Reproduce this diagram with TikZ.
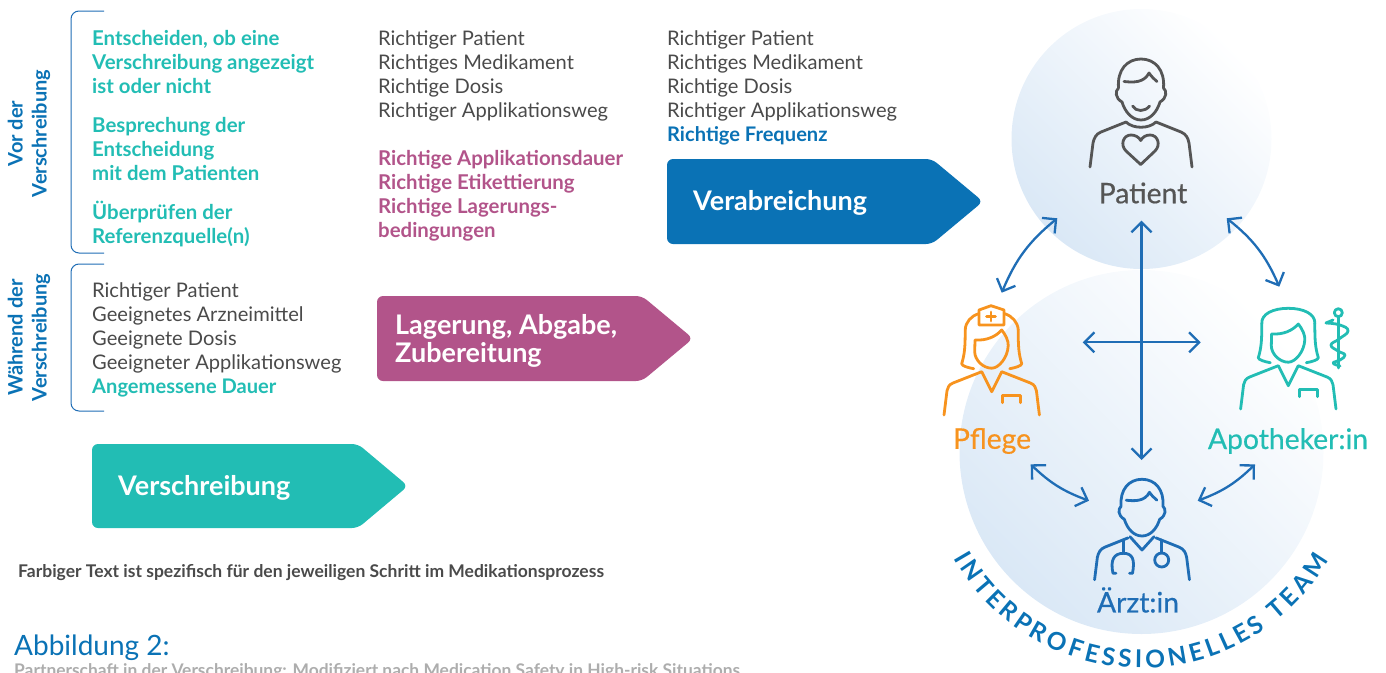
\documentclass[tikz,border=0pt]{standalone}
\usepackage{fontspec}
\setmainfont{Lato}
\newfontfamily\medfont[FakeBold=0.5]{Lato}
\usetikzlibrary{arrows.meta,decorations.text}
\definecolor{cteal}{HTML}{22BDB4}
\definecolor{cblue}{HTML}{0A72B5}
\definecolor{cline}{HTML}{1F6DB5}
\definecolor{cmag}{HTML}{B2548A}
\definecolor{cgray}{HTML}{4A4A4A}
\definecolor{cicon}{HTML}{555555}
\definecolor{corange}{HTML}{F7931E}
\definecolor{ccirc}{HTML}{DAE8F6}
\tikzset{
  body/.style={font=\fontsize{20.1}{24}\selectfont,text=cgray,align=left,anchor=north west,inner sep=0pt},
  tealb/.style={body,text=cteal,font=\fontsize{20.4}{24}\selectfont\bfseries},
  magb/.style={body,text=cmag,font=\fontsize{20.4}{24}\selectfont\bfseries},
  side/.style={font=\fontsize{20}{24}\selectfont\bfseries,text=cblue,align=center,rotate=90,inner sep=0pt},
  tagbox/.style={rounded corners=6pt},
  taglabel/.style={font=\fontsize{27}{28}\selectfont\bfseries,text=white,align=left,anchor=west,inner sep=0pt},
  role/.style={font=\fontsize{28.3}{30}\selectfont\medfont,inner sep=0pt},
  bracket/.style={draw=cline,line width=1pt,rounded corners=8pt},
  dbl/.style={draw=cline,line width=2.3pt,{Straight Barb[length=10pt,width=20pt,line width=2.3pt]}-{Straight Barb[length=10pt,width=20pt,line width=2.3pt]}},
  icon/.style={line width=2.8pt,line cap=round,line join=round},
  pics/manhead/.style={code={
    \draw[icon] (-22.5,-12) .. controls (-24,-30) and (-14,-41) .. (0,-41) .. controls (14,-41) and (24,-30) .. (22.5,-12)
      .. controls (26,-9) and (26,-2) .. (19,2) .. controls (16,12) and (9,20) .. (0,20) .. controls (-9,20) and (-16,12) .. (-19,2)
      .. controls (-26,-2) and (-26,-9) .. (-22.5,-12);
    \draw[icon] (-17,-18.5) .. controls (-8,-17.5) and (3,-17) .. (8,-27) .. controls (10,-24) and (13,-21) .. (16,-18.5);
    \draw[icon] (-15,22) -- (-40,32) .. controls (-45,34) and (-47,38) .. (-48,43) -- (-51,67);
    \draw[icon] (15,22) -- (40,32) .. controls (45,34) and (47,38) .. (48,43) -- (51,67);
  }},
  pics/woman/.style={code={
    \draw[icon] (-18,-23) .. controls (-24,-24) and (-30,-26) .. (-30,-28) .. controls (-27,-38) and (-26.5,-45) .. (-26.5,-62);
    \draw[icon] (18,-23) .. controls (24,-24) and (30,-26) .. (30,-28) .. controls (27,-38) and (26.5,-45) .. (26.5,-62);
    \draw[icon] (-16.7,-51.7) .. controls (-5,-51) and (4,-55) .. (10,-61.7) .. controls (14,-57) and (17,-50) .. (16.5,-46)
      .. controls (16,-34) and (7,-23.5) .. (0,-23.5) .. controls (-9,-23.5) and (-17,-32) .. (-17,-40) -- cycle;
    \draw[icon] (-47.7,23.3) -- (-44.7,-1) .. controls (-44,-4) and (-43,-7) .. (-38.7,-8.7) -- (-10,-20) -- (0,0) -- (10,-20) -- (38.7,-8.7) .. controls (43,-7) and (44,-4) .. (44.7,-1) -- (47.7,23.3);
    \draw[icon] (11,11) -- (11,3.6) -- (29,3.6) -- (29,11);
  }},
}
\begin{document}
\begin{tikzpicture}[x=1pt,y=-1pt]
\useasboundingbox (0,0) rectangle (1386,672);
% circles
\shade[bottom color=ccirc,top color=white,shading angle=-45] (1141.5,139) circle[radius=130pt];
\shade[bottom color=ccirc,top color=white,shading angle=-45] (1141.5,452) circle[radius=182pt];
% brackets
\coordinate (b1a) at (104,11); \coordinate (b1b) at (71,11); \coordinate (b1c) at (71,253); \coordinate (b1d) at (104,253);
\draw[bracket] (b1a) -- (b1b) -- (b1c) -- (b1d);
\coordinate (b2a) at (104,264); \coordinate (b2b) at (71,264); \coordinate (b2c) at (71,411); \coordinate (b2d) at (104,411);
\draw[bracket] (b2a) -- (b2b) -- (b2c) -- (b2d);
% side labels
\node[side] (vor) at (29,133.5) {Vor der\\Verschreibung};
\node[side] (waehr) at (29,337.5) {Während der\\Verschreibung};
% column 1
\node[tealb] (c1a) at (92,30) {Entscheiden, ob eine\\Verschreibung angezeigt\\ist oder nicht};
\node[tealb] (c1b) at (92,117) {Besprechung der\\Entscheidung\\mit dem Patienten};
\node[tealb] (c1c) at (92,201) {Überprüfen der\\Referenzquelle(n)};
\node[body] (c1d) at (92,282) {Richtiger Patient\\Geeignetes Arzneimittel\\Geeignete Dosis\\Geeigneter Applikationsweg\\\textcolor{cteal}{\bfseries Angemessene Dauer}};
% column 2
\node[body] (c2a) at (378,30) {Richtiger Patient\\Richtiges Medikament\\Richtige Dosis\\Richtiger Applikationsweg};
\node[magb] (c2b) at (378,150) {Richtige Applikationsdauer\\Richtige Etikettierung\\Richtige Lagerungs-\\bedingungen};
% column 3
\node[body] (c3a) at (667,30) {Richtiger Patient\\Richtiges Medikament\\Richtige Dosis\\Richtiger Applikationsweg\\\textcolor{cblue}{\bfseries Richtige Frequenz}};
% tags
\fill[cteal,tagbox] (92,444) -- (358,444) -- (408,486) -- (358,528) -- (92,528) -- cycle;
\node[taglabel] (t1) at (118,488) {Verschreibung};
\fill[cmag,tagbox] (377,296) -- (642,296) -- (693,338.5) -- (642,381) -- (377,381) -- cycle;
\node[taglabel] (t2) at (395,341) {Lagerung, Abgabe,\\Zubereitung};
\fill[cblue,tagbox] (667,159) -- (932,159) -- (983,201.5) -- (932,244) -- (667,244) -- cycle;
\node[taglabel] (t3) at (693,203) {Verabreichung};
% notes
\node[font=\fontsize{17.5}{18}\selectfont\bfseries,text=cgray,anchor=west,inner sep=0pt] (note) at (18,573) {Farbiger Text ist spezifisch für den jeweiligen Schritt im Medikationsprozess};
\node[font=\fontsize{28}{30}\selectfont,text=cblue,anchor=west,inner sep=0pt] (abb) at (14,648) {Abbildung 2:};
\node[font=\fontsize{17.4}{18}\selectfont\bfseries,text=black!32,anchor=base west,inner sep=0pt] (cap) at (14,676) {Partnerschaft in der Verschreibung: Modifiziert nach Medication Safety in High-risk Situations};
% patient icon
\begin{scope}[cicon,color=cicon]
\pic at (1141,100) {manhead};
\draw[icon] (1126,122) .. controls (1133,129) and (1149,129) .. (1156,122);
\draw[icon] (1132.5,106) .. controls (1136,112) and (1145,112) .. (1149.5,106);
\draw[icon] (1140.7,164.5) -- (1126,151) .. controls (1120,145) and (1123,135) .. (1131,135) .. controls (1135,135) and (1139,137) .. (1140.7,140.5)
  .. controls (1142.5,137) and (1146,135) .. (1150,135) .. controls (1158,135) and (1161,145) .. (1155,151) -- cycle;
\end{scope}
\node[role,text=cicon] (patient) at (1143,193) {Patient};
% nurse
\begin{scope}[color=corange]
\pic at (991.7,391.7) {woman};
\draw[icon] (965.2,329.7) .. controls (965.7,322) and (971,316) .. (978.7,313.7);
\draw[icon] (1018.2,329.7) .. controls (1017.7,322) and (1012,316) .. (1004.7,313.7);
\draw[icon] (979,310) -- (991,305.7) -- (1004,310) -- (1004,325) -- (979,325) -- cycle;
\draw[icon] (991,312) -- (991,321) (986.5,316.5) -- (995.5,316.5);
\end{scope}
\node[role,text=corange] (pflege) at (992,441) {Pflege};
% pharmacist
\begin{scope}[color=cteal]
\pic at (1288.3,385.7) {woman};
\draw[icon] (1261.8,323.7) .. controls (1261,314) and (1273,308.3) .. (1288.3,308.3) .. controls (1303.6,308.3) and (1315.6,314) .. (1314.8,323.7);
\draw[icon] (1338.3,312.7) circle[radius=4pt];
\draw[icon] (1338.3,316.7) -- (1338.3,368);
\draw[icon] plot[smooth,tension=0.8] coordinates {(1326,323) (1340,325) (1348,331) (1339,339) (1331,345) (1338,351) (1345,355) (1340,360) (1333,363) (1340,366)};
\draw[icon] (1326,323) -- (1333,320);
\end{scope}
\node[role,text=cteal] (apo) at (1288,441) {Apotheker:in};
% doctor
\begin{scope}[color=cline]
\pic[scale=0.93] at (1142,517.4) {manhead};
\draw[icon] (1130,536.7) -- (1142,550) -- (1154,536.7);
\draw[icon] (1123.3,540) -- (1123.3,553.3);
\draw[icon] (1116,573.3) -- (1113,573.3) .. controls (1110,560) and (1114,553.3) .. (1123.3,553.3) .. controls (1133,553.3) and (1135,560) .. (1132.5,573.3) -- (1129.5,573.3);
\draw[icon] (1161.7,540) -- (1161.7,553);
\draw[icon] (1161.7,560) circle[radius=7pt];
\end{scope}
\node[role,text=cline] (arzt) at (1138,600) {Ärzt:in};
% arrows
\coordinate (a1s) at (1057.3,218.3); \coordinate (a1e) at (1001.7,292.7);
\coordinate (a2s) at (1226.7,218.3); \coordinate (a2e) at (1279.3,286.7);
\coordinate (vs) at (1141.5,220.7); \coordinate (ve) at (1141.5,460);
\coordinate (hs) at (1082.7,342.3); \coordinate (he) at (1200.7,342.3);
\coordinate (a3s) at (1030.7,464.3); \coordinate (a3e) at (1089,500.7);
\coordinate (a4s) at (1255,464.3); \coordinate (a4e) at (1197.7,500.7);
\draw[dbl] (a1s) to[bend right=14] (a1e);
\draw[dbl] (a2s) to[bend left=14] (a2e);
\draw[dbl] (vs) -- (ve);
\draw[dbl] (hs) -- (he);
\draw[dbl] (a3s) to[bend right=12] (a3e);
\draw[dbl] (a4s) to[bend left=12] (a4e);
% arc text
\path[postaction={decorate},decoration={text along path,text align={fit to path},
  text={|\fontsize{24.5}{26}\selectfont\bfseries\color{cblue}|INTERPROFESSIONELLES TEAM}}]
  (1141.5pt,-452pt) ++(209.5:216pt) arc[start angle=209.5,end angle=330,radius=216pt];
\end{tikzpicture}
\end{document}
